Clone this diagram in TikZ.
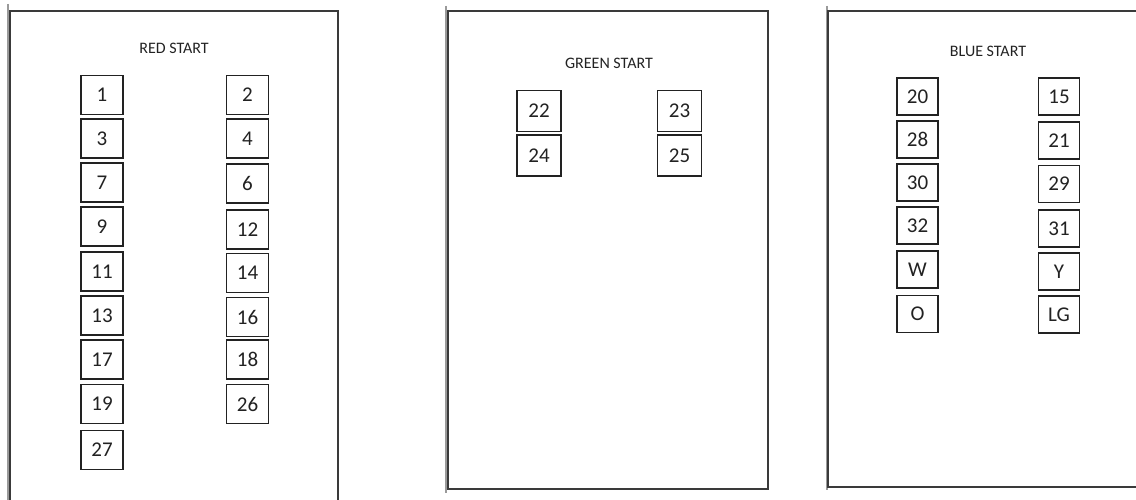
\documentclass[tikz,border=0pt]{standalone}
\usepackage{fontspec}
\setmainfont{Carlito}
\usepackage{xcolor}
\definecolor{ink}{HTML}{222222}
\definecolor{frame}{HTML}{3A3A3A}
\definecolor{shade}{HTML}{9A9A9A}
\usepackage{tikz}

\begin{document}
\begin{tikzpicture}[
  x=1pt, y=-1pt,
  every node/.style={font=\fontsize{21}{25}\selectfont, text=ink},
  seat/.style={rectangle, draw=ink, line width=1.6pt, fill=white,
               minimum width=42pt, minimum height=39pt, inner sep=0pt},
  title/.style={font=\fontsize{16}{19}\selectfont, text=ink},
  panel/.style={draw=frame, line width=1.1pt},
  edge/.style={draw=shade, line width=2.2pt}
]
  \useasboundingbox (0,0) rectangle (1136,500);

  % panels
  \draw[edge] (8,4) -- (8,500);
  \draw[panel] (10,11) rectangle (338,512);
  \draw[edge] (446,6) -- (446,493);
  \draw[panel] (448,11) rectangle (768,489);
  \draw[edge] (827,6) -- (827,490);
  \draw[panel] (828,11) rectangle (1142,487);

  % red
  \node[title] (redtitle) at (174,48) {RED START};
  \node[seat] (r1)  at (102,95)    {1};
  \node[seat] (r3)  at (102,138.5) {3};
  \node[seat] (r7)  at (102,182.5) {7};
  \node[seat] (r9)  at (102,226.5) {9};
  \node[seat] (r11) at (102,271.5) {11};
  \node[seat] (r13) at (102,315.5) {13};
  \node[seat] (r17) at (102,359.5) {17};
  \node[seat] (r19) at (102,404)   {19};
  \node[seat] (r27) at (102,450)   {27};
  \node[seat] (r2)  at (247.5,95)    {2};
  \node[seat] (r4)  at (247.5,138.5) {4};
  \node[seat] (r6)  at (247.5,183.5) {6};
  \node[seat] (r12) at (247.5,229.5) {12};
  \node[seat] (r14) at (247.5,273)   {14};
  \node[seat] (r16) at (247.5,317)   {16};
  \node[seat] (r18) at (247.5,359.5) {18};
  \node[seat] (r26) at (247.5,404)   {26};

  % green
  \node[title] (greentitle) at (609,63) {GREEN START};
  \node[seat, minimum width=44pt, minimum height=41pt] (g22) at (539,111)   {22};
  \node[seat, minimum width=44pt, minimum height=41pt] (g24) at (539,155.5) {24};
  \node[seat, minimum width=44pt, minimum height=41pt] (g23) at (679.5,111)   {23};
  \node[seat, minimum width=44pt, minimum height=41pt] (g25) at (679.5,155.5) {25};

  % blue
  \node[title] (bluetitle) at (988,51) {BLUE START};
  \node[seat, minimum width=41pt, minimum height=37pt] (b20) at (917.5,96.5)  {20};
  \node[seat, minimum width=41pt, minimum height=37pt] (b28) at (917.5,139.5) {28};
  \node[seat, minimum width=41pt, minimum height=37pt] (b30) at (917.5,182.5) {30};
  \node[seat, minimum width=41pt, minimum height=37pt] (b32) at (917.5,225.5) {32};
  \node[seat, minimum width=41pt, minimum height=37pt] (bw)  at (917.5,269.5) {W};
  \node[seat, minimum width=41pt, minimum height=37pt] (bo)  at (917.5,314)   {O};
  \node[seat, minimum width=41pt, minimum height=37pt] (b15) at (1059,96.5)  {15};
  \node[seat, minimum width=41pt, minimum height=37pt] (b21) at (1059,140.5) {21};
  \node[seat, minimum width=41pt, minimum height=37pt] (b29) at (1059,184)   {29};
  \node[seat, minimum width=41pt, minimum height=37pt] (b31) at (1059,228.5) {31};
  \node[seat, minimum width=41pt, minimum height=37pt] (by)  at (1059,271.5) {Y};
  \node[seat, minimum width=41pt, minimum height=37pt] (blg) at (1059,314.5) {LG};
\end{tikzpicture}
\end{document}
